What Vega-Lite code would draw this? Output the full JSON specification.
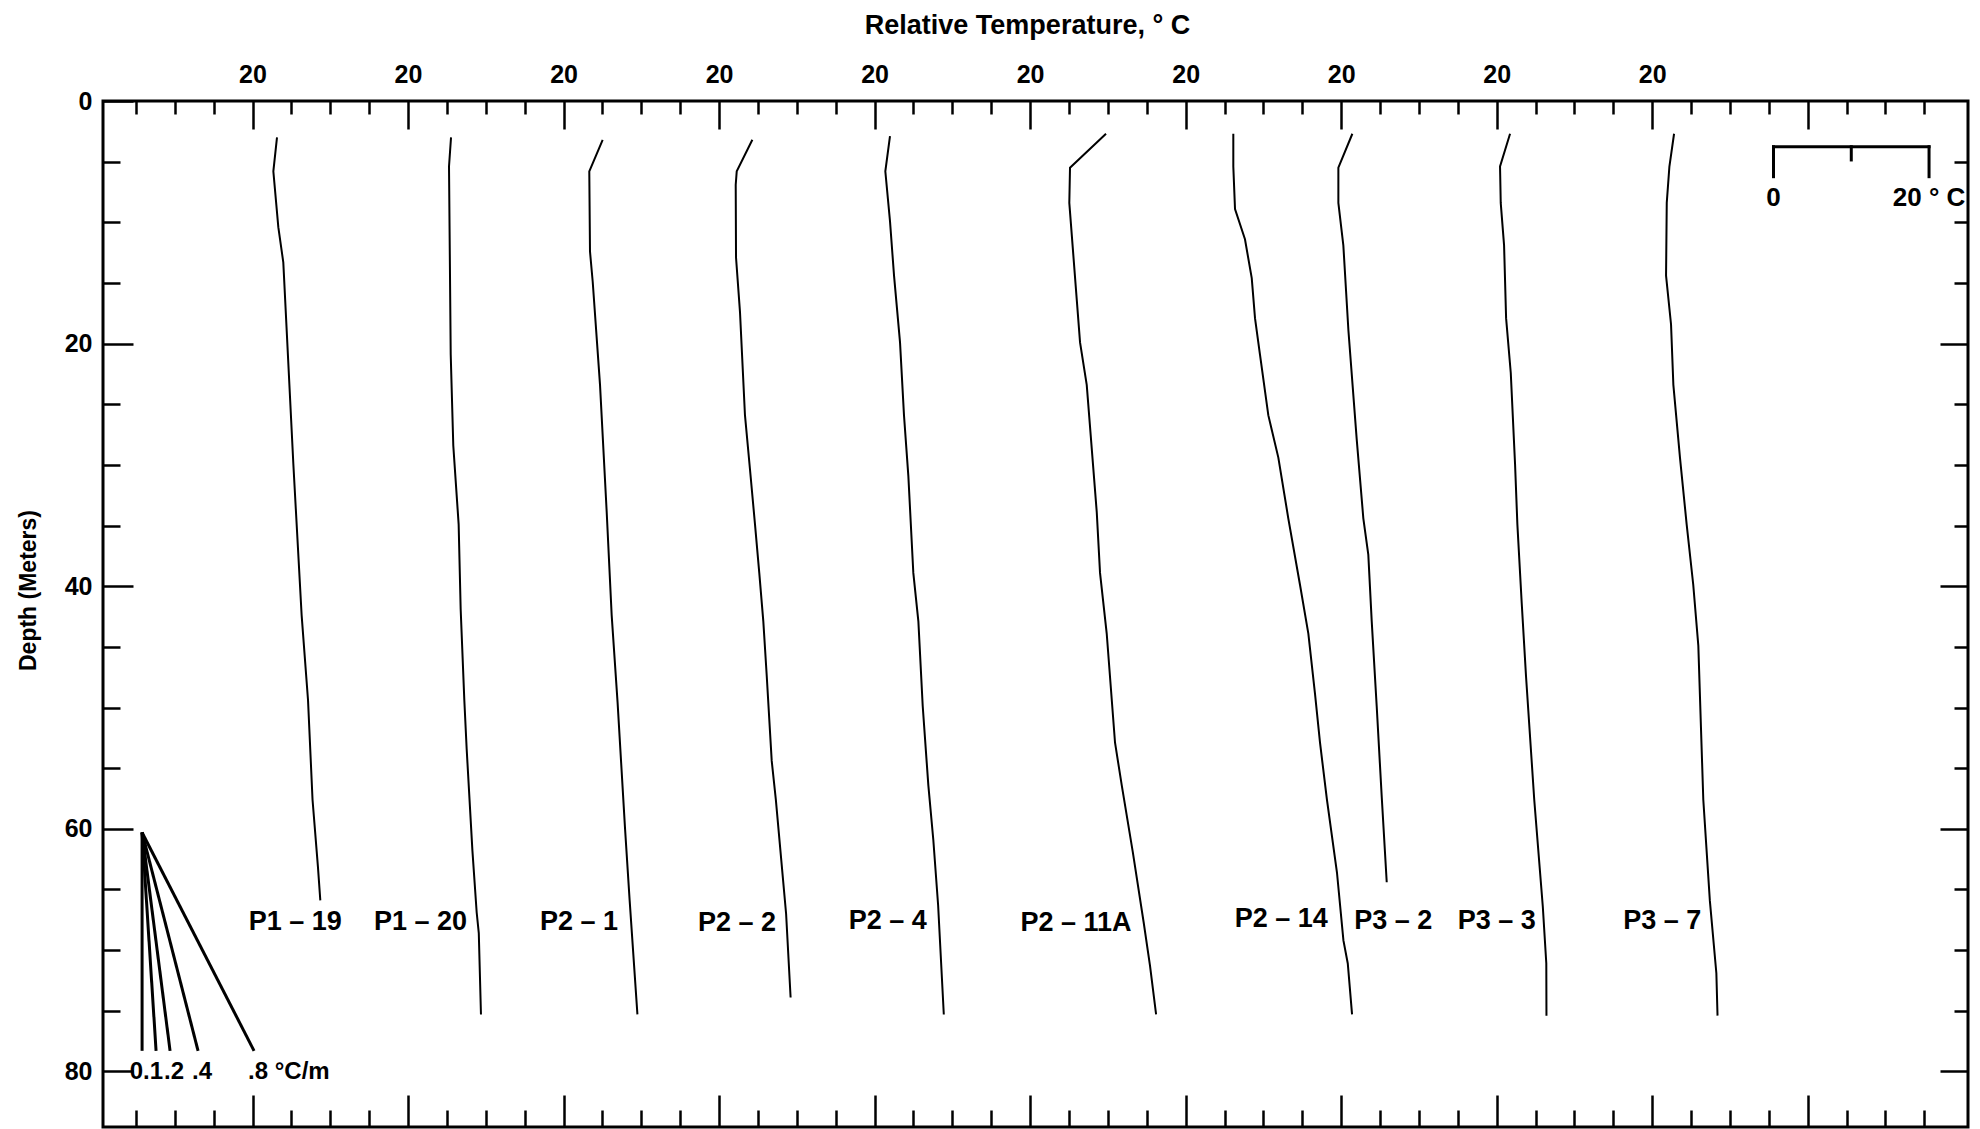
{
  "$schema": "https://vega.github.io/schema/vega-lite/v6.json",
  "width": 1865,
  "height": 1026,
  "autosize": {"type": "none"},
  "padding": {"left": 103, "top": 101, "right": 12, "bottom": 2},
  "background": "white",
  "config": {
    "view": {"stroke": "black", "strokeWidth": 3},
    "axis": {
      "domain": false,
      "grid": false,
      "tickColor": "black",
      "tickWidth": 2.5,
      "labelFont": "Liberation Sans",
      "labelFontWeight": "bold",
      "labelFontSize": 25,
      "labelColor": "black",
      "labelOverlap": false,
      "labelFlush": false,
      "titleFont": "Liberation Sans",
      "titleFontWeight": "bold",
      "titleColor": "black"
    }
  },
  "resolve": {"axis": {"x": "independent", "y": "independent"}},
  "datasets": {
    "profiles": [
      {"well": "P1-19", "depth": 3.0, "temp": 23.15},
      {"well": "P1-19", "depth": 5.8, "temp": 22.68},
      {"well": "P1-19", "depth": 10.4, "temp": 23.32},
      {"well": "P1-19", "depth": 13.3, "temp": 23.96},
      {"well": "P1-19", "depth": 29.9, "temp": 25.25},
      {"well": "P1-19", "depth": 42.4, "temp": 26.32},
      {"well": "P1-19", "depth": 49.4, "temp": 27.14},
      {"well": "P1-19", "depth": 57.6, "temp": 27.72},
      {"well": "P1-19", "depth": 63.1, "temp": 28.41},
      {"well": "P1-19", "depth": 65.9, "temp": 28.72},

      {"well": "P1-20", "depth": 3.0, "temp": 45.53},
      {"well": "P1-20", "depth": 5.4, "temp": 45.27},
      {"well": "P1-20", "depth": 20.9, "temp": 45.49},
      {"well": "P1-20", "depth": 28.4, "temp": 45.82},
      {"well": "P1-20", "depth": 34.9, "temp": 46.51},
      {"well": "P1-20", "depth": 41.9, "temp": 46.77},
      {"well": "P1-20", "depth": 49.4, "temp": 47.24},
      {"well": "P1-20", "depth": 53.4, "temp": 47.54},
      {"well": "P1-20", "depth": 61.8, "temp": 48.28},
      {"well": "P1-20", "depth": 66.9, "temp": 48.83},
      {"well": "P1-20", "depth": 68.6, "temp": 49.1},
      {"well": "P1-20", "depth": 75.3, "temp": 49.38},

      {"well": "P2-1", "depth": 3.2, "temp": 65.03},
      {"well": "P2-1", "depth": 5.8, "temp": 63.31},
      {"well": "P2-1", "depth": 12.4, "temp": 63.4},
      {"well": "P2-1", "depth": 14.9, "temp": 63.75},
      {"well": "P2-1", "depth": 23.4, "temp": 64.69},
      {"well": "P2-1", "depth": 33.9, "temp": 65.55},
      {"well": "P2-1", "depth": 42.4, "temp": 66.19},
      {"well": "P2-1", "depth": 49.6, "temp": 66.95},
      {"well": "P2-1", "depth": 59.9, "temp": 67.9},
      {"well": "P2-1", "depth": 65.9, "temp": 68.5},
      {"well": "P2-1", "depth": 75.3, "temp": 69.5},

      {"well": "P2-2", "depth": 3.2, "temp": 84.28},
      {"well": "P2-2", "depth": 5.8, "temp": 82.27},
      {"well": "P2-2", "depth": 6.9, "temp": 82.14},
      {"well": "P2-2", "depth": 12.9, "temp": 82.18},
      {"well": "P2-2", "depth": 17.4, "temp": 82.69},
      {"well": "P2-2", "depth": 25.9, "temp": 83.33},
      {"well": "P2-2", "depth": 30.4, "temp": 83.98},
      {"well": "P2-2", "depth": 34.9, "temp": 84.62},
      {"well": "P2-2", "depth": 38.9, "temp": 85.17},
      {"well": "P2-2", "depth": 42.9, "temp": 85.69},
      {"well": "P2-2", "depth": 47.4, "temp": 86.13},
      {"well": "P2-2", "depth": 54.4, "temp": 86.77},
      {"well": "P2-2", "depth": 57.6, "temp": 87.3},
      {"well": "P2-2", "depth": 63.3, "temp": 88.1},
      {"well": "P2-2", "depth": 67.0, "temp": 88.62},
      {"well": "P2-2", "depth": 73.9, "temp": 89.2},

      {"well": "P2-4", "depth": 2.9, "temp": 101.98},
      {"well": "P2-4", "depth": 5.8, "temp": 101.38},
      {"well": "P2-4", "depth": 9.9, "temp": 101.98},
      {"well": "P2-4", "depth": 14.4, "temp": 102.5},
      {"well": "P2-4", "depth": 19.9, "temp": 103.27},
      {"well": "P2-4", "depth": 25.9, "temp": 103.78},
      {"well": "P2-4", "depth": 30.9, "temp": 104.34},
      {"well": "P2-4", "depth": 38.9, "temp": 104.98},
      {"well": "P2-4", "depth": 42.9, "temp": 105.63},
      {"well": "P2-4", "depth": 49.9, "temp": 106.19},
      {"well": "P2-4", "depth": 56.4, "temp": 106.91},
      {"well": "P2-4", "depth": 60.9, "temp": 107.55},
      {"well": "P2-4", "depth": 66.3, "temp": 108.17},
      {"well": "P2-4", "depth": 75.3, "temp": 108.9},

      {"well": "P2-11A", "depth": 2.7, "temp": 129.76},
      {"well": "P2-11A", "depth": 5.5, "temp": 125.13},
      {"well": "P2-11A", "depth": 8.4, "temp": 125.04},
      {"well": "P2-11A", "depth": 16.4, "temp": 126.0},
      {"well": "P2-11A", "depth": 19.9, "temp": 126.42},
      {"well": "P2-11A", "depth": 23.4, "temp": 127.28},
      {"well": "P2-11A", "depth": 33.9, "temp": 128.57},
      {"well": "P2-11A", "depth": 38.9, "temp": 128.99},
      {"well": "P2-11A", "depth": 43.9, "temp": 129.85},
      {"well": "P2-11A", "depth": 52.9, "temp": 130.92},
      {"well": "P2-11A", "depth": 56.4, "temp": 131.78},
      {"well": "P2-11A", "depth": 61.9, "temp": 133.2},
      {"well": "P2-11A", "depth": 67.7, "temp": 134.6},
      {"well": "P2-11A", "depth": 71.3, "temp": 135.42},
      {"well": "P2-11A", "depth": 75.3, "temp": 136.2},

      {"well": "P2-14", "depth": 2.7, "temp": 146.13},
      {"well": "P2-14", "depth": 5.4, "temp": 146.13},
      {"well": "P2-14", "depth": 8.9, "temp": 146.35},
      {"well": "P2-14", "depth": 11.4, "temp": 147.63},
      {"well": "P2-14", "depth": 14.6, "temp": 148.5},
      {"well": "P2-14", "depth": 17.9, "temp": 148.92},
      {"well": "P2-14", "depth": 20.9, "temp": 149.56},
      {"well": "P2-14", "depth": 25.9, "temp": 150.63},
      {"well": "P2-14", "depth": 29.4, "temp": 151.92},
      {"well": "P2-14", "depth": 34.4, "temp": 153.2},
      {"well": "P2-14", "depth": 39.9, "temp": 154.71},
      {"well": "P2-14", "depth": 43.9, "temp": 155.78},
      {"well": "P2-14", "depth": 48.9, "temp": 156.64},
      {"well": "P2-14", "depth": 52.9, "temp": 157.28},
      {"well": "P2-14", "depth": 57.6, "temp": 158.17},
      {"well": "P2-14", "depth": 63.6, "temp": 159.46},
      {"well": "P2-14", "depth": 69.2, "temp": 160.29},
      {"well": "P2-14", "depth": 71.1, "temp": 160.85},
      {"well": "P2-14", "depth": 75.3, "temp": 161.4},

      {"well": "P3-2", "depth": 2.7, "temp": 161.44},
      {"well": "P3-2", "depth": 5.5, "temp": 159.64},
      {"well": "P3-2", "depth": 8.4, "temp": 159.64},
      {"well": "P3-2", "depth": 11.9, "temp": 160.28},
      {"well": "P3-2", "depth": 18.9, "temp": 160.93},
      {"well": "P3-2", "depth": 27.9, "temp": 162.0},
      {"well": "P3-2", "depth": 34.4, "temp": 162.85},
      {"well": "P3-2", "depth": 37.4, "temp": 163.49},
      {"well": "P3-2", "depth": 42.9, "temp": 163.93},
      {"well": "P3-2", "depth": 49.9, "temp": 164.57},
      {"well": "P3-2", "depth": 57.4, "temp": 165.22},
      {"well": "P3-2", "depth": 64.4, "temp": 165.86},

      {"well": "P3-3", "depth": 2.7, "temp": 181.72},
      {"well": "P3-3", "depth": 5.4, "temp": 180.43},
      {"well": "P3-3", "depth": 8.4, "temp": 180.52},
      {"well": "P3-3", "depth": 11.9, "temp": 180.95},
      {"well": "P3-3", "depth": 17.9, "temp": 181.21},
      {"well": "P3-3", "depth": 22.4, "temp": 181.81},
      {"well": "P3-3", "depth": 29.9, "temp": 182.36},
      {"well": "P3-3", "depth": 34.9, "temp": 182.66},
      {"well": "P3-3", "depth": 41.4, "temp": 183.22},
      {"well": "P3-3", "depth": 47.4, "temp": 183.77},
      {"well": "P3-3", "depth": 57.6, "temp": 184.83},
      {"well": "P3-3", "depth": 66.4, "temp": 185.93},
      {"well": "P3-3", "depth": 71.1, "temp": 186.38},
      {"well": "P3-3", "depth": 75.4, "temp": 186.4},

      {"well": "P3-7", "depth": 2.7, "temp": 202.81},
      {"well": "P3-7", "depth": 5.4, "temp": 202.21},
      {"well": "P3-7", "depth": 8.4, "temp": 201.87},
      {"well": "P3-7", "depth": 14.4, "temp": 201.78},
      {"well": "P3-7", "depth": 18.4, "temp": 202.42},
      {"well": "P3-7", "depth": 23.4, "temp": 202.72},
      {"well": "P3-7", "depth": 29.4, "temp": 203.57},
      {"well": "P3-7", "depth": 34.9, "temp": 204.43},
      {"well": "P3-7", "depth": 39.9, "temp": 205.28},
      {"well": "P3-7", "depth": 44.9, "temp": 205.93},
      {"well": "P3-7", "depth": 57.6, "temp": 206.57},
      {"well": "P3-7", "depth": 65.9, "temp": 207.41},
      {"well": "P3-7", "depth": 71.9, "temp": 208.25},
      {"well": "P3-7", "depth": 75.4, "temp": 208.4}
    ],
    "wellLabels": [
      {"label": "P1 – 19", "temp": 25.5, "depth": 67.7},
      {"label": "P1 – 20", "temp": 41.6, "depth": 67.7},
      {"label": "P2 – 1", "temp": 62.0, "depth": 67.7},
      {"label": "P2 – 2", "temp": 82.3, "depth": 67.8},
      {"label": "P2 – 4", "temp": 101.7, "depth": 67.6},
      {"label": "P2 – 11A", "temp": 125.9, "depth": 67.8},
      {"label": "P2 – 14", "temp": 152.3, "depth": 67.4},
      {"label": "P3 – 2", "temp": 166.7, "depth": 67.6},
      {"label": "P3 – 3", "temp": 180.0, "depth": 67.6},
      {"label": "P3 – 7", "temp": 201.3, "depth": 67.6}
    ],
    "gradients": [
      {"g": "0", "temp": 5.8, "depth": 60.3},
      {"g": "0", "temp": 5.8, "depth": 78.3, "label": "0"},
      {"g": ".1", "temp": 5.8, "depth": 60.3},
      {"g": ".1", "temp": 7.6, "depth": 78.3, "label": ".1"},
      {"g": ".2", "temp": 5.8, "depth": 60.3},
      {"g": ".2", "temp": 9.4, "depth": 78.3, "label": ".2"},
      {"g": ".4", "temp": 5.8, "depth": 60.3},
      {"g": ".4", "temp": 13.0, "depth": 78.3, "label": ".4"},
      {"g": ".8", "temp": 5.8, "depth": 60.3},
      {"g": ".8", "temp": 20.2, "depth": 78.3, "label": ".8 °C/m"}
    ],
    "scaleBar": [
      {"t0": 215.6, "t1": 235.6, "d0": 3.77, "d1": 3.77},
      {"t0": 215.6, "t1": 215.6, "d0": 3.77, "d1": 6.24},
      {"t0": 225.6, "t1": 225.6, "d0": 3.77, "d1": 4.86},
      {"t0": 235.6, "t1": 235.6, "d0": 3.77, "d1": 6.24}
    ],
    "scaleBarLabels": [
      {"label": "0", "temp": 215.6, "depth": 8.0},
      {"label": "20 ° C", "temp": 235.6, "depth": 8.0}
    ]
  },
  "layer": [
    {
      "data": {"name": "profiles"},
      "mark": {"type": "line", "color": "black", "strokeWidth": 2},
      "encoding": {
        "x": {
          "field": "temp", "type": "quantitative",
          "scale": {"domain": [0.774, 240.61], "nice": false, "zero": false},
          "axis": {
            "orient": "top",
            "values": [20, 40, 60, 80, 100, 120, 140, 160, 180, 200, 220],
            "tickSize": -28,
            "labelExpr": "datum.value <= 200 ? '20' : ''",
            "labelPadding": 47,
            "labelBaseline": "alphabetic",
            "title": "Relative Temperature, ° C",
            "titleFontSize": 27,
            "titleX": 924,
            "titleY": -68,
            "titleAlign": "center",
            "titleBaseline": "alphabetic",
            "titleAngle": 0
          }
        },
        "y": {
          "field": "depth", "type": "quantitative",
          "scale": {"domain": [0, 84.58], "reverse": true, "nice": false, "zero": false},
          "axis": {
            "orient": "left",
            "values": [0, 20, 40, 60, 80],
            "tickSize": -30,
            "labelPadding": 41,
            "labelAlign": "right",
            "labelBaseline": "middle",
            "title": "Depth (Meters)",
            "titleFontSize": 23,
            "titleX": -75,
            "titleY": 489,
            "titleAngle": -90,
            "titleAlign": "center",
            "titleBaseline": "middle"
          }
        },
        "detail": {"field": "well", "type": "nominal"},
        "order": {"field": "depth", "type": "quantitative"}
      }
    },
    {
      "data": {"name": "wellLabels"},
      "mark": {"type": "text", "font": "Liberation Sans", "fontWeight": "bold", "fontSize": 27, "align": "center", "baseline": "middle", "color": "black"},
      "encoding": {
        "x": {
          "field": "temp", "type": "quantitative",
          "scale": {"domain": [0.774, 240.61], "nice": false, "zero": false},
          "axis": {
            "orient": "top",
            "values": [5, 10, 15, 25, 30, 35, 45, 50, 55, 65, 70, 75, 85, 90, 95, 105, 110, 115, 125, 130, 135, 145, 150, 155, 165, 170, 175, 185, 190, 195, 205, 210, 215, 225, 230, 235],
            "tickSize": -13,
            "labels": false,
            "title": null
          }
        },
        "y": {
          "field": "depth", "type": "quantitative",
          "scale": {"domain": [0, 84.58], "reverse": true, "nice": false, "zero": false},
          "axis": {
            "orient": "left",
            "values": [5, 10, 15, 25, 30, 35, 45, 50, 55, 65, 70, 75],
            "tickSize": -17,
            "labels": false,
            "title": null
          }
        },
        "text": {"field": "label"}
      }
    },
    {
      "data": {"name": "gradients"},
      "mark": {"type": "line", "color": "black", "strokeWidth": 3},
      "encoding": {
        "x": {
          "field": "temp", "type": "quantitative",
          "scale": {"domain": [0.774, 240.61], "nice": false, "zero": false},
          "axis": {
            "orient": "bottom",
            "values": [20, 40, 60, 80, 100, 120, 140, 160, 180, 200, 220],
            "tickSize": -32,
            "labels": false,
            "title": null
          }
        },
        "y": {
          "field": "depth", "type": "quantitative",
          "scale": {"domain": [0, 84.58], "reverse": true, "nice": false, "zero": false},
          "axis": {
            "orient": "right",
            "values": [20, 40, 60, 80],
            "tickSize": -28,
            "labels": false,
            "title": null
          }
        },
        "detail": {"field": "g", "type": "nominal"},
        "order": {"field": "depth", "type": "quantitative"}
      }
    },
    {
      "data": {"name": "gradients"},
      "transform": [{"filter": {"field": "label", "equal": "0"}}],
      "mark": {"type": "text", "font": "Liberation Sans", "fontWeight": "bold", "fontSize": 24, "align": "right", "baseline": "middle", "dx": 1, "dy": 21, "color": "black"},
      "encoding": {
        "x": {
          "field": "temp", "type": "quantitative",
          "scale": {"domain": [0.774, 240.61], "nice": false, "zero": false},
          "axis": {
            "orient": "bottom",
            "values": [5, 10, 15, 25, 30, 35, 45, 50, 55, 65, 70, 75, 85, 90, 95, 105, 110, 115, 125, 130, 135, 145, 150, 155, 165, 170, 175, 185, 190, 195, 205, 210, 215, 225, 230, 235],
            "tickSize": -17,
            "labels": false,
            "title": null
          }
        },
        "y": {
          "field": "depth", "type": "quantitative",
          "scale": {"domain": [0, 84.58], "reverse": true, "nice": false, "zero": false},
          "axis": {
            "orient": "right",
            "values": [5, 10, 15, 25, 30, 35, 45, 50, 55, 65, 70, 75],
            "tickSize": -14,
            "labels": false,
            "title": null
          }
        },
        "text": {"field": "label"}
      }
    },
    {
      "data": {"name": "gradients"},
      "transform": [{"filter": {"field": "label", "equal": ".1"}}],
      "mark": {"type": "text", "font": "Liberation Sans", "fontWeight": "bold", "fontSize": 24, "align": "left", "baseline": "middle", "dx": -13, "dy": 21, "color": "black"},
      "encoding": {
        "x": {"field": "temp", "type": "quantitative", "scale": {"domain": [0.774, 240.61], "nice": false, "zero": false}, "axis": null},
        "y": {"field": "depth", "type": "quantitative", "scale": {"domain": [0, 84.58], "reverse": true, "nice": false, "zero": false}, "axis": null},
        "text": {"field": "label"}
      }
    },
    {
      "data": {"name": "gradients"},
      "transform": [{"filter": {"field": "label", "oneOf": [".2", ".4", ".8 °C/m"]}}],
      "mark": {"type": "text", "font": "Liberation Sans", "fontWeight": "bold", "fontSize": 24, "align": "left", "baseline": "middle", "dx": -6, "dy": 21, "color": "black"},
      "encoding": {
        "x": {"field": "temp", "type": "quantitative", "scale": {"domain": [0.774, 240.61], "nice": false, "zero": false}, "axis": null},
        "y": {"field": "depth", "type": "quantitative", "scale": {"domain": [0, 84.58], "reverse": true, "nice": false, "zero": false}, "axis": null},
        "text": {"field": "label"}
      }
    },
    {
      "data": {"name": "scaleBar"},
      "mark": {"type": "rule", "color": "black", "strokeWidth": 3, "strokeCap": "square"},
      "encoding": {
        "x": {"field": "t0", "type": "quantitative", "scale": {"domain": [0.774, 240.61], "nice": false, "zero": false}, "axis": null},
        "x2": {"field": "t1"},
        "y": {"field": "d0", "type": "quantitative", "scale": {"domain": [0, 84.58], "reverse": true, "nice": false, "zero": false}, "axis": null},
        "y2": {"field": "d1"}
      }
    },
    {
      "data": {"name": "scaleBarLabels"},
      "mark": {"type": "text", "font": "Liberation Sans", "fontWeight": "bold", "fontSize": 26, "align": "center", "baseline": "middle", "color": "black"},
      "encoding": {
        "x": {"field": "temp", "type": "quantitative", "scale": {"domain": [0.774, 240.61], "nice": false, "zero": false}, "axis": null},
        "y": {"field": "depth", "type": "quantitative", "scale": {"domain": [0, 84.58], "reverse": true, "nice": false, "zero": false}, "axis": null},
        "text": {"field": "label"}
      }
    }
  ]
}
